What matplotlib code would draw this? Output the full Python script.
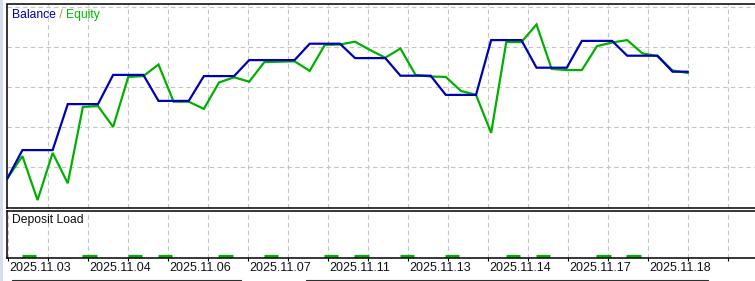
import numpy as np
import matplotlib
matplotlib.use("Agg")
import matplotlib.pyplot as plt
from matplotlib.lines import Line2D
from matplotlib.patches import Rectangle

# balance / equity per deal (chart has no value axis, read off pixel heights)
balance = [9972,
           10043, 10043, 10043,
           10158, 10158, 10158,
           10231, 10231, 10231,
           10166, 10166, 10166,
           10228, 10228, 10228,
           10268, 10268, 10268, 10268,
           10309, 10309, 10309,
           10273, 10273, 10273,
           10229, 10229, 10229,
           10181, 10181, 10181,
           10318, 10318, 10318,
           10249, 10249, 10249,
           10316, 10316, 10316,
           10279, 10279, 10279,
           10239, 10239]
equity = [9972, 10028, 9918, 10036, 9960, 10151, 10153, 10101, 10226, 10228,
          10257, 10164, 10164, 10146, 10212, 10225, 10214, 10263, 10264, 10265,
          10241, 10306, 10307, 10314, 10293, 10274, 10297, 10231, 10227, 10226,
          10191, 10181, 10086, 10313, 10313, 10357, 10246, 10243, 10243, 10303,
          10312, 10318, 10285, 10278, 10242, 10236]

# deposit load segments (deal index where a position was open, load %)
load_idx = [1, 5, 8, 10, 14, 17, 21, 23, 26, 29, 33, 35, 39, 41]
load_val = [5.0] * len(load_idx)

dates = ["2025.11.03", "2025.11.04", "2025.11.06", "2025.11.07", "2025.11.11",
         "2025.11.13", "2025.11.14", "2025.11.17", "2025.11.18"]

BLUE = "#0000b4"
GREEN = "#00b000"
GRID = "#c4c4c4"
W, H = 755, 281
STEP = 15.12      # pixels per deal
X0 = 7.3          # left border in pixels

fig = plt.figure(figsize=(W / 100, H / 100), dpi=100)
fig.patch.set_facecolor("white")

def px_axes(l, t, r, b):
    return fig.add_axes([l / W, 1 - b / H, (r - l) / W, (b - t) / H])

def px_to_idx(x):
    return (x - X0) / STEP

xmax = px_to_idx(762)
grid_x = [px_to_idx(48.3 + 40 * k) for k in range(18)]

# main balance/equity panel
ax = px_axes(X0, 4.5, 762, 208)
x = np.arange(len(balance))
ax.plot(x, equity, color=GREEN, lw=1.6, solid_joinstyle="miter", zorder=3)
ax.plot(x, balance, color=BLUE, lw=1.6, solid_joinstyle="miter", zorder=4)
ax.set_xlim(0, xmax)
ax.set_ylim(9898.25, 10407)
ax.set_xticks(grid_x)
ax.set_yticks([10000, 10100, 10200, 10300, 10400])
ax.grid(True, color=GRID, lw=0.8, ls=(0, (4, 3)))
ax.tick_params(length=0, labelbottom=False, labelleft=False)
for s in ax.spines.values():
    s.set_color("black")
    s.set_linewidth(1.1)
ax.spines["right"].set_visible(False)

lab = fig.text(12 / W, 1 - 15 / H, "Balance", color=BLUE, fontsize=8.7,
               family="Liberation Sans", va="center", ha="left")
sl = ax.annotate(" / ", xy=(1, 0), xycoords=lab, va="bottom", ha="left",
                 color="#d08020", fontsize=8.7, family="Liberation Sans")
ax.annotate("Equity", xy=(1, 0), xycoords=sl, va="bottom", ha="left",
            color="#00b800", fontsize=8.7, family="Liberation Sans")

# deposit load panel
ax2 = px_axes(X0, 210.5, 762, 258)
ax2.hlines(load_val, np.array(load_idx) - 0.05, np.array(load_idx) + 0.9,
           color=GREEN, lw=2.3)
ax2.set_xlim(0, xmax)
ax2.set_ylim(0, 100)
ax2.set_xticks([px_to_idx(8.3)] + grid_x)
ax2.set_yticks([])
ax2.grid(True, axis="x", color=GRID, lw=0.8, ls=(0, (4, 3)))
ax2.tick_params(axis="x", direction="out", length=2.5, width=0.8, labelbottom=False)
for s in ax2.spines.values():
    s.set_color("black")
    s.set_linewidth(1.1)
ax2.spines["right"].set_visible(False)
fig.text(12 / W, 1 - 220 / H, "Deposit Load", fontsize=8.7, family="Liberation Sans",
         va="center", ha="left", color="#101010")

for k, d in enumerate(dates):
    fig.text((9.0 + 80 * k) / W, 1 - 268 / H, d, fontsize=9, family="Liberation Sans",
             va="center", ha="left", color="#101018")

# window chrome: left frame strip and widget borders under the chart
fig.add_artist(Rectangle((0, 0), 2.5 / W, 1, transform=fig.transFigure,
                         color="#d3deee", lw=0))
for xa, xb in [(12, 240.5), (306, 708)]:
    yy = 1 - 279.5 / H
    fig.add_artist(Line2D([xa / W, xa / W, xb / W, xb / W], [0, yy, yy, 0],
                          transform=fig.transFigure, color="#303030", lw=0.8))

fig.savefig("out.png", dpi=100)
